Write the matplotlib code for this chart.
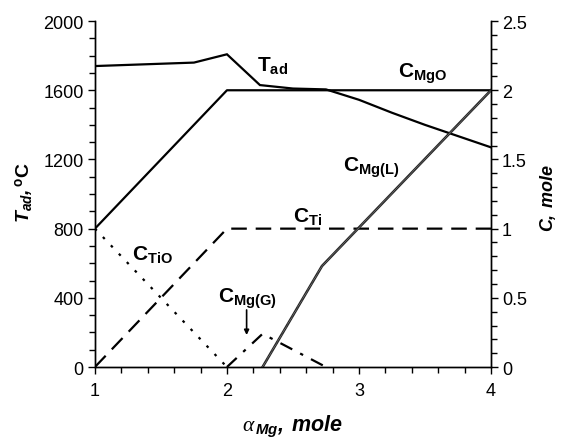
import matplotlib
matplotlib.use("Agg")
import matplotlib.pyplot as plt
from matplotlib.ticker import MultipleLocator, FuncFormatter

plt.rcParams['font.family'] = ['Liberation Sans', 'DejaVu Sans']
plt.rcParams['mathtext.fontset'] = 'custom'
plt.rcParams['mathtext.rm'] = 'Liberation Sans'
plt.rcParams['mathtext.bf'] = 'Liberation Sans:bold'
plt.rcParams['mathtext.it'] = 'Liberation Serif:italic'
plt.rcParams['mathtext.bfit'] = 'Liberation Sans:bold:italic'

# ---- data ----
tad_x = [1.0, 1.75, 2.0, 2.25, 2.5, 2.75, 3.0, 3.25, 3.5, 3.75, 4.0]
tad_y = [1740, 1760, 1808, 1630, 1610, 1605, 1545, 1470, 1400, 1335, 1270]

mgo_x = [1.0, 1.75, 2.0, 4.0]
mgo_c = [1.0, 1.75, 2.0, 2.0]

ti_x = [1.0, 2.0, 4.0]
ti_c = [0.0, 1.0, 1.0]

tio_x = [1.0, 2.0]
tio_c = [1.0, 0.0]

mgg_x = [2.0, 2.27, 2.75]
mgg_c = [0.0, 0.24, 0.0]

mgl_x = [2.27, 2.72, 4.0]
mgl_c = [0.0, 0.73, 2.0]

fig = plt.figure(figsize=(5.65, 4.39), dpi=100)
ax = fig.add_axes([0.168, 0.1617, 0.701, 0.788])
ax2 = ax.twinx()

ax.set_xlim(1, 4)
ax.set_ylim(0, 2000)
ax2.set_ylim(0, 2.5)

lw = 1.6
ax.plot(tad_x, tad_y, color='black', lw=lw, solid_joinstyle='miter')
ax2.plot(mgo_x, mgo_c, color='black', lw=lw)
ax2.plot(ti_x, ti_c, color='black', lw=lw, linestyle=(0, (7, 4)))
ax2.plot(tio_x, tio_c, color='black', lw=lw, linestyle=(0, (1.2, 4.0)))
ax2.plot(mgg_x, mgg_c, color='black', lw=lw, linestyle=(0, (6, 4, 1.5, 4)))
ax2.plot(mgl_x, mgl_c, color='0.15', lw=1.9)
ax2.plot(mgl_x, mgl_c, color='white', lw=0.45, linestyle=(0, (0.7, 1.4)))

# ticks
for a in (ax, ax2):
    a.tick_params(which='major', length=5, width=1, labelsize=13, pad=3)
    a.tick_params(which='minor', length=4, width=1)
    for s in a.spines.values():
        s.set_linewidth(1.0)
    a.spines['top'].set_visible(False)

ax.xaxis.set_major_locator(MultipleLocator(1))
ax.xaxis.set_minor_locator(MultipleLocator(0.2))
ax.yaxis.set_major_locator(MultipleLocator(400))
ax.yaxis.set_minor_locator(MultipleLocator(100))
ax2.yaxis.set_major_locator(MultipleLocator(0.5))
ax2.yaxis.set_minor_locator(MultipleLocator(0.1))
ax2.yaxis.set_major_formatter(FuncFormatter(lambda v, p: ('%g' % v)))
ax.tick_params(axis='x', pad=6)

# axis labels
fig.text(25/565, 1-193/439, r'$\mathbfit{T}_{\mathbfit{ad}}\mathbfit{,}\,^{\mathbf{o}}\mathbf{C}$',
         rotation=90, ha='center', va='center', fontsize=14)
fig.text(548/565, 1-198/439, r'$\mathbfit{C,\ mole}$',
         rotation=90, ha='center', va='center', fontsize=13)
fig.text(293/565, 1-426/439, r'$\alpha_{\,\mathbfit{Mg}}\mathbfit{,\ mole}$',
         ha='center', va='center', fontsize=15.5)

# curve labels
def lab(x, y, main, sub):
    ax.text(x, y, r'$\mathbf{%s}_{\mathbf{%s}}$' % (main, sub), fontsize=15,
            ha='left', va='center')

lab(2.227, 1750, 'T', 'ad')
lab(3.295, 1698, 'C', 'MgO')
lab(2.88, 1155, 'C', 'Mg(L)')
lab(2.50, 878, 'C', 'Ti')
lab(1.28, 659, 'C', 'TiO')
lab(1.93, 399, 'C', 'Mg(G)')

ax.annotate('', xy=(2.149, 185), xytext=(2.149, 330),
            arrowprops=dict(arrowstyle='-|>', color='black', lw=1.2,
                            mutation_scale=7, shrinkA=0, shrinkB=0))

fig.savefig('out.png', dpi=100)
